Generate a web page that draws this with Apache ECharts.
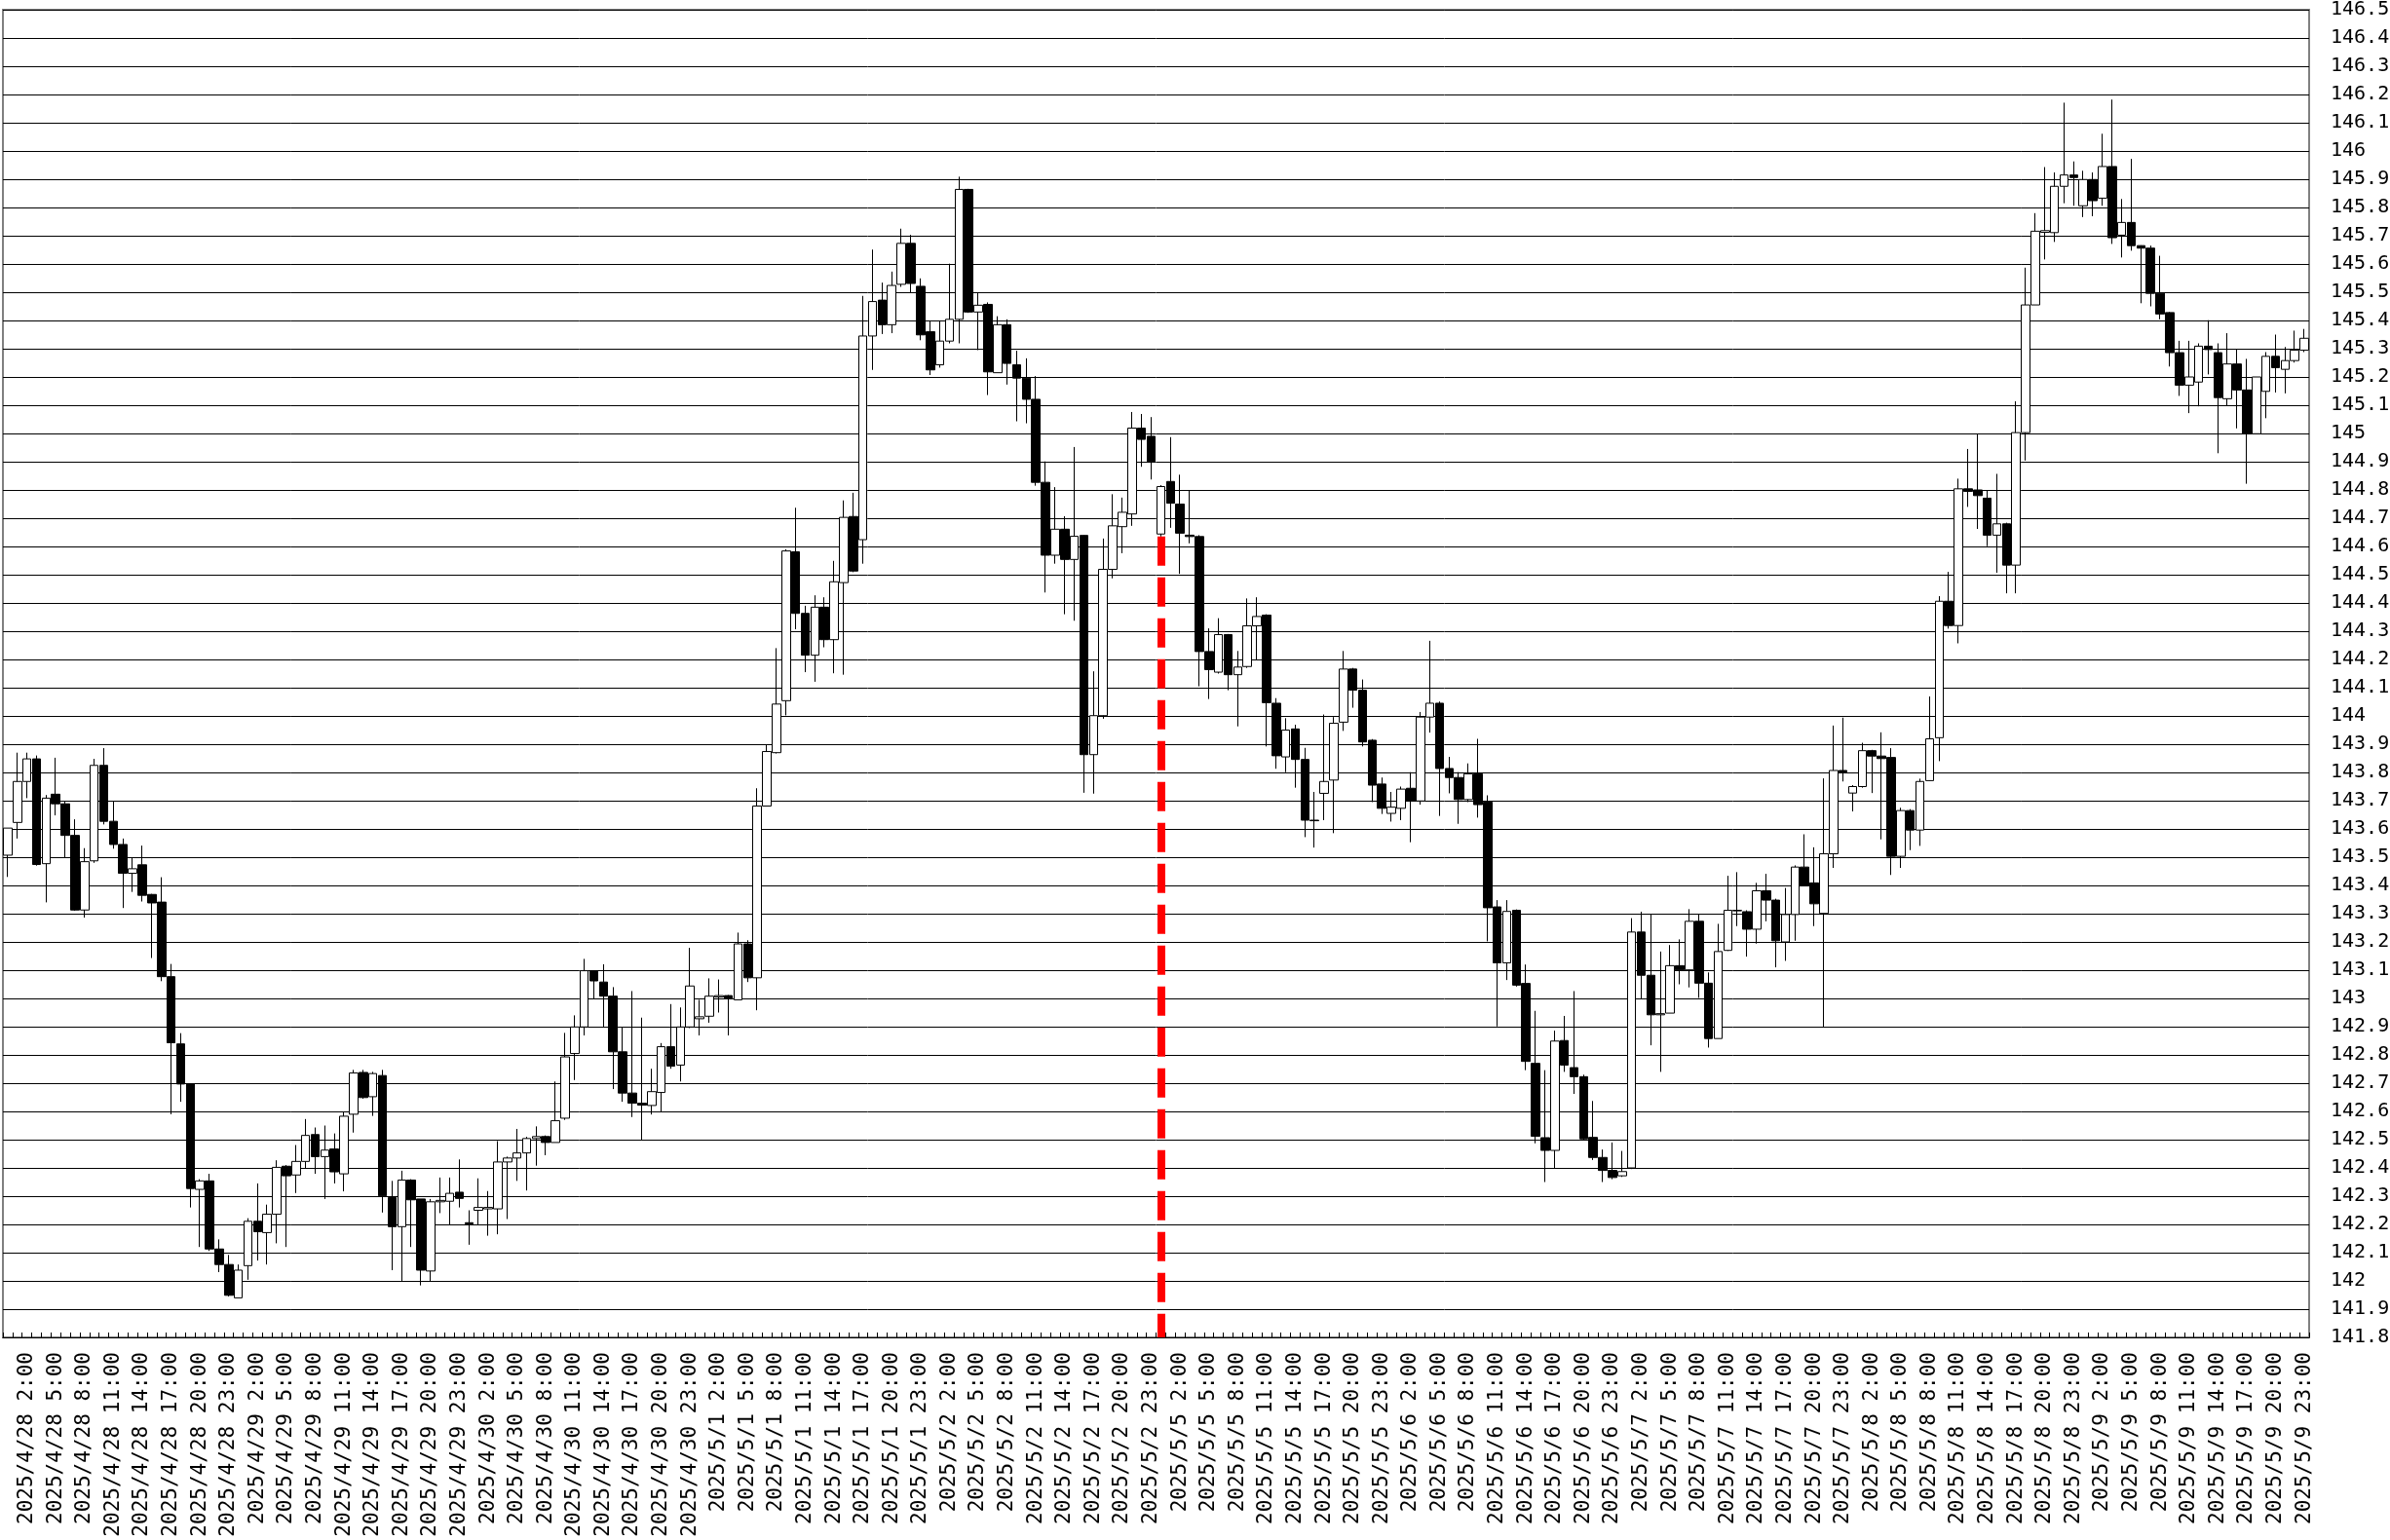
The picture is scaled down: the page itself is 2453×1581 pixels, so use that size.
<!DOCTYPE html>
<html>
<head>
<meta charset="utf-8">
<script src="https://cdn.jsdelivr.net/npm/echarts@6/dist/echarts.min.js"></script>
<style>
html,body{margin:0;padding:0;background:#fff;overflow:hidden;}
#chart{width:2453px;height:1581px;}
</style>
</head>
<body>
<div id="chart"></div>
<script>
// trading days shown on the axis (hourly candles 0:00-23:00 each day)
const days = ['2025/4/28','2025/4/29','2025/4/30','2025/5/1','2025/5/2','2025/5/5','2025/5/6','2025/5/7','2025/5/8','2025/5/9'];
const hours = ['0:00','1:00','2:00','3:00','4:00','5:00','6:00','7:00','8:00','9:00','10:00','11:00','12:00','13:00','14:00','15:00','16:00','17:00','18:00','19:00','20:00','21:00','22:00','23:00'];
const categories = [];
days.forEach(d => hours.forEach(h => categories.push(d + ' ' + h)));

const opens = [
143.507,143.623,143.768,143.848,143.477,143.723,143.689,143.577,143.313,143.487,
143.825,143.627,143.545,143.443,143.473,143.368,143.341,143.077,142.839,142.697,
142.324,142.354,142.113,142.058,141.940,142.054,142.211,142.171,142.236,142.406,
142.375,142.423,142.518,142.440,142.467,142.379,142.590,142.738,142.652,142.727,
142.295,142.192,142.357,142.290,142.035,142.280,142.282,142.314,142.206,142.250,
142.255,142.255,142.421,142.435,142.453,142.504,142.511,142.490,142.576,142.805,
142.899,143.098,143.058,143.008,142.811,142.665,142.629,142.621,142.667,142.829,
142.764,142.899,142.928,142.937,143.005,143.010,142.995,143.193,143.073,143.681,
143.870,144.054,144.581,144.363,144.215,144.385,144.270,144.472,144.706,144.624,
145.345,145.472,145.385,145.528,145.673,145.521,145.360,145.243,145.327,145.404,
145.864,145.430,145.457,145.215,145.385,145.243,145.196,145.121,144.827,144.569,
144.661,144.554,144.639,143.863,144.001,144.519,144.670,144.715,145.019,144.990,
144.644,144.830,144.750,144.640,144.635,144.228,144.155,144.288,144.146,144.175,
144.319,144.357,144.045,143.855,143.954,143.846,143.631,143.726,143.773,143.978,
144.166,144.091,143.914,143.759,143.655,143.673,143.744,143.699,143.996,144.045,
143.814,143.782,143.704,143.795,143.695,143.324,143.126,143.312,143.053,142.770,
142.507,142.462,142.851,142.755,142.723,142.508,142.437,142.391,142.372,142.400,
143.235,143.082,142.942,142.948,143.116,143.101,143.273,143.054,142.858,143.170,
143.310,143.307,143.245,143.381,143.348,143.200,143.297,143.465,143.409,143.301,
143.512,143.807,143.727,143.750,143.877,143.858,143.853,143.503,143.665,143.596,
143.771,143.923,144.406,144.320,144.804,144.800,144.771,144.640,144.680,144.534,
145.003,145.455,145.712,145.711,145.875,145.915,145.806,145.899,145.833,145.945,
145.702,145.747,145.665,145.656,145.496,145.428,145.286,145.171,145.182,145.309,
145.286,145.123,145.246,145.154,144.999,145.149,145.273,145.227,145.258,145.295
];
const closes = [
143.603,143.768,143.848,143.474,143.709,143.689,143.577,143.313,143.484,143.825,
143.627,143.545,143.443,143.459,143.365,143.338,143.077,142.843,142.697,142.327,
142.354,142.113,142.058,141.949,142.038,142.211,142.174,142.236,142.402,142.372,
142.423,142.515,142.440,142.463,142.386,142.583,142.736,142.649,142.734,142.301,
142.192,142.357,142.287,142.038,142.280,142.285,142.310,142.292,142.202,142.260,
142.260,142.421,142.435,142.453,142.504,142.511,142.490,142.567,142.793,142.899,
143.098,143.062,143.008,142.811,142.665,142.629,142.622,142.670,142.829,142.760,
142.899,143.044,142.935,143.008,143.010,143.000,143.193,143.073,143.681,143.874,
144.042,144.584,144.363,144.215,144.385,144.270,144.475,144.703,144.513,145.345,
145.467,145.385,145.524,145.673,145.531,145.349,145.225,145.327,145.404,145.864,
145.430,145.454,145.218,145.385,145.248,145.196,145.121,144.827,144.569,144.661,
144.554,144.636,143.863,144.001,144.519,144.673,144.721,145.019,144.979,144.901,
144.812,144.753,144.647,144.635,144.228,144.164,144.288,144.146,144.173,144.319,
144.352,144.047,143.859,143.950,143.846,143.631,143.629,143.768,143.974,144.166,
144.091,143.908,143.755,143.673,143.677,143.741,143.699,143.996,144.045,143.814,
143.782,143.704,143.795,143.686,143.321,143.126,143.308,143.047,142.777,142.512,
142.462,142.849,142.764,142.723,142.503,142.437,142.391,142.366,142.387,143.235,
143.082,142.942,142.946,143.116,143.101,143.273,143.054,142.858,143.166,143.312,
143.312,143.245,143.381,143.348,143.204,143.297,143.465,143.400,143.335,143.512,
143.807,143.802,143.750,143.877,143.858,143.849,143.503,143.665,143.596,143.768,
143.919,144.406,144.320,144.804,144.795,144.780,144.640,144.680,144.534,145.003,
145.455,145.716,145.718,145.875,145.915,145.906,145.899,145.824,145.945,145.693,
145.747,145.665,145.656,145.496,145.423,145.286,145.171,145.200,145.309,145.297,
145.127,145.246,145.154,144.999,145.200,145.273,145.233,145.258,145.295,145.337
];
const lows = [
143.430,143.566,143.709,143.470,143.340,143.648,143.498,143.310,143.286,143.480,
143.616,143.530,143.320,143.377,143.343,143.143,143.061,142.590,142.634,142.260,
142.120,142.106,142.031,141.945,141.940,142.004,142.072,142.058,142.133,142.120,
142.311,142.400,142.379,142.290,142.345,142.317,142.525,142.645,142.584,142.242,
142.038,142.000,142.120,141.984,142.000,142.240,142.197,142.260,142.128,142.200,
142.160,142.165,142.219,142.354,142.320,142.408,142.445,142.490,142.570,142.711,
142.869,142.999,142.899,142.679,142.634,142.580,142.500,142.589,142.598,142.751,
142.706,142.895,142.869,142.914,142.950,142.869,142.995,143.058,142.958,143.680,
143.867,144.002,144.307,144.155,144.121,144.243,144.151,144.146,144.509,144.539,
145.225,145.352,145.355,145.519,145.499,145.330,145.207,145.233,145.319,145.319,
145.427,145.295,145.136,145.215,145.173,145.043,145.036,144.815,144.437,144.539,
144.360,144.337,143.728,143.725,143.990,144.487,144.576,144.673,144.882,144.837,
144.635,144.666,144.503,144.611,144.105,144.060,144.150,144.091,143.963,144.170,
144.197,143.892,143.813,143.801,143.746,143.571,143.534,143.631,143.585,143.947,
144.029,143.892,143.695,143.653,143.626,143.631,143.553,143.686,143.941,143.646,
143.726,143.618,143.695,143.640,143.202,142.901,143.065,143.042,142.746,142.487,
142.350,142.400,142.740,142.662,142.500,142.428,142.350,142.360,142.368,142.396,
142.998,142.834,142.740,142.948,143.050,143.039,143.002,142.826,142.858,143.168,
143.256,143.148,143.194,143.273,143.110,143.133,143.204,143.400,143.256,142.899,
143.462,143.768,143.662,143.746,143.727,143.563,143.437,143.462,143.525,143.540,
143.770,143.840,144.309,144.257,144.740,144.662,144.601,144.507,144.434,144.434,
144.904,145.455,145.616,145.678,145.815,145.806,145.766,145.769,145.806,145.671,
145.623,145.647,145.461,145.450,145.404,145.237,145.133,145.072,145.096,145.209,
144.930,145.097,145.018,144.822,144.999,145.054,145.145,145.142,145.251,145.288
];
const highs = [
143.603,143.870,143.870,143.860,143.720,143.852,143.700,143.634,143.532,143.848,
143.886,143.700,143.566,143.498,143.541,143.370,143.429,143.122,142.877,142.700,
142.360,142.379,142.147,142.092,142.058,142.222,142.345,142.270,142.427,142.410,
142.481,142.573,142.543,142.550,142.522,142.600,142.747,142.747,142.740,142.747,
142.354,142.390,142.360,142.290,142.290,142.366,142.366,142.430,142.250,142.363,
142.318,142.495,142.440,142.538,142.510,142.547,142.515,142.706,142.878,142.940,
143.140,143.100,143.121,143.040,142.899,143.026,142.932,142.751,142.842,142.980,
142.968,143.179,142.995,143.071,143.067,143.012,143.233,143.206,143.744,143.897,
144.240,144.590,144.737,144.390,144.427,144.420,144.549,144.763,144.790,145.487,
145.651,145.534,145.573,145.725,145.703,145.549,145.397,145.397,145.601,145.909,
145.866,145.499,145.464,145.415,145.404,145.293,145.266,145.203,144.901,144.810,
144.707,144.952,144.640,144.158,144.628,144.785,144.773,145.076,145.069,145.058,
144.817,144.987,144.854,144.799,144.640,144.310,144.346,144.290,144.230,144.416,
144.420,144.360,144.063,143.992,143.969,143.887,143.731,144.005,143.996,144.230,
144.170,144.129,143.918,143.782,143.731,143.750,143.801,144.014,144.266,144.051,
143.855,143.801,143.832,143.919,143.719,143.348,143.348,143.315,143.120,142.956,
142.746,142.886,142.938,143.026,142.730,142.637,142.465,142.490,142.460,143.284,
143.307,143.297,143.166,143.189,143.209,143.316,143.297,143.092,143.264,143.434,
143.447,143.312,143.409,143.441,143.353,143.391,143.471,143.581,143.535,143.779,
143.966,143.994,143.755,143.905,143.880,143.942,143.886,143.675,143.670,143.778,
144.069,144.424,144.510,144.840,144.945,145.000,144.799,144.857,144.684,145.114,
145.587,145.780,145.943,145.924,146.171,145.963,145.930,145.924,146.061,146.182,
145.830,145.972,145.666,145.665,145.629,145.430,145.328,145.328,145.319,145.401,
145.319,145.355,145.300,145.264,145.200,145.288,145.350,145.306,145.364,145.370
];
// week-start marker: candle index of 2025/5/5 0:00
const markerIndex = 120;
const yMin = 141.8, yMax = 146.5, yStep = 0.1;

const candleData = opens.map((o, i) => [o, closes[i], lows[i], highs[i]]);
const FONT = '"DejaVu Sans Mono", "Liberation Mono", monospace';

const chart = echarts.init(document.getElementById('chart'), null, {renderer: 'canvas'});
chart.setOption({
  animation: false,
  backgroundColor: '#ffffff',
  grid: {left: 3, right: 83, top: 10, bottom: 208, outerBoundsMode: 'none', containLabel: false,
         show: true, borderColor: '#808080', borderWidth: 2, backgroundColor: '#ffffff'},
  xAxis: {
    type: 'category',
    data: categories,
    boundaryGap: true,
    axisLine: {show: true, onZero: false, lineStyle: {color: '#000', width: 1}},
    axisTick: {show: true, inside: true, length: 5, interval: 0, lineStyle: {color: '#000'}},
    axisLabel: {
      rotate: 90, margin: 15, color: '#000', fontSize: 21, fontFamily: FONT,
      interval: function (index) { return index % 3 === 2; }
    },
    splitLine: {show: false}
  },
  yAxis: {
    type: 'value',
    position: 'right',
    min: yMin, max: yMax, interval: yStep,
    axisLine: {show: false},
    axisTick: {show: false},
    axisLabel: {
      margin: 22, color: '#000', fontSize: 20, fontFamily: FONT,
      formatter: v => String(Math.round(v * 10) / 10)
    },
    splitLine: {show: true, lineStyle: {color: '#000', width: 1}}
  },
  series: [{
    type: 'candlestick',
    data: candleData,
    barWidth: '92%',
    itemStyle: {color: '#ffffff', color0: '#000000', borderColor: '#000000', borderColor0: '#000000', borderWidth: 1},
    markLine: {
      silent: true,
      symbol: ['none', 'none'],
      label: {show: false},
      lineStyle: {color: '#ff0000', width: 8, type: [30, 12], opacity: 1},
      data: [[{coord: [categories[markerIndex], lows[markerIndex]]}, {coord: [categories[markerIndex], yMin]}]]
    }
  }]
});
</script>
</body>
</html>
